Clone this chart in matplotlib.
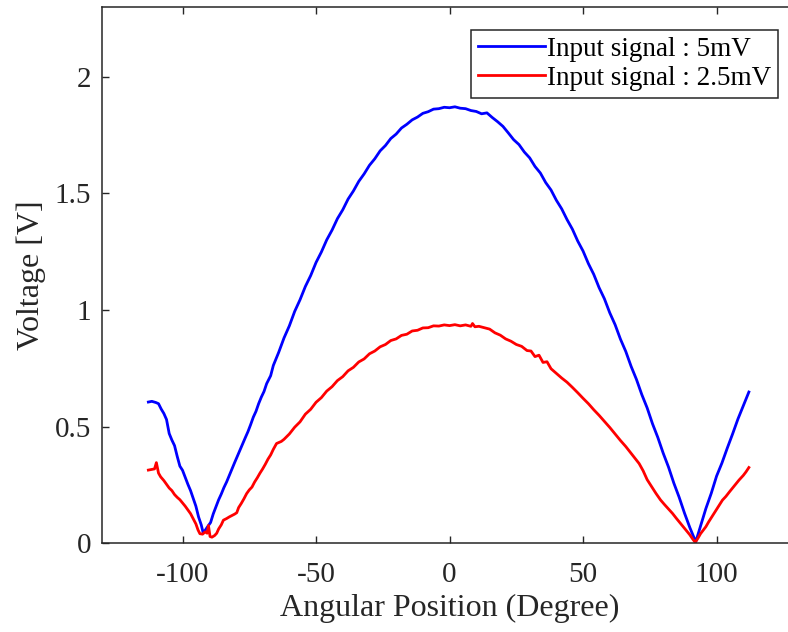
# Curva de tensão x posição angular (dois sinais de entrada)
import numpy as np
import matplotlib.pyplot as plt

# Sinal de entrada 5 mV
ang_5mv = [-112.8, -111.5, -110.0, -109.0, -108.0, -107.0, -106.0, -105.0, -104.0, -103.0,
           -102.0, -101.0, -100.0, -99.0, -98.0, -97.0, -96.0, -95.0, -94.0, -93.0,
           -92.3, -91.5, -90.5, -89.5, -88.5, -87.5, -86.5, -85.5, -84.5, -83.5,
           -82.5, -81.5, -80.5, -79.5, -78.5, -77.5, -76.5, -75.5, -74.5, -73.5,
           -72.5, -71.5, -70.5, -69.5, -68.5, -67.0, -66.0, -64.0, -62.0, -60.0,
           -58.0, -56.0, -54.0, -52.0, -50.0, -48.0, -46.0, -44.0, -42.0, -40.0,
           -38.0, -36.0, -34.0, -32.0, -30.0, -28.0, -26.0, -24.0, -22.0, -20.0,
           -18.0, -16.0, -14.0, -12.0, -10.0, -8.0, -6.0, -4.0, -2.0, 0.0,
           2.0, 4.0, 6.0, 8.0, 10.0, 12.0, 14.0, 16.0, 18.0, 20.0,
           22.0, 24.0, 26.0, 28.0, 30.0, 32.0, 34.0, 36.0, 38.0, 40.0,
           42.0, 44.0, 46.0, 48.0, 50.0, 52.0, 54.0, 56.0, 58.0, 60.0,
           62.0, 64.0, 66.0, 68.0, 70.0, 72.0, 74.0, 76.0, 78.0, 80.0,
           82.0, 84.0, 86.0, 88.0, 90.0, 92.2, 94.0, 96.0, 98.0, 100.0,
           102.0, 104.0, 106.0, 108.0, 110.0, 112.1]
v_5mv = [0.605, 0.608, 0.603, 0.598, 0.575, 0.556, 0.530, 0.470, 0.442, 0.418,
         0.372, 0.330, 0.312, 0.282, 0.252, 0.225, 0.192, 0.158, 0.112, 0.078,
         0.045, 0.055, 0.072, 0.088, 0.125, 0.155, 0.185, 0.210, 0.238, 0.262,
         0.290, 0.318, 0.345, 0.372, 0.398, 0.425, 0.452, 0.478, 0.508, 0.540,
         0.565, 0.598, 0.626, 0.650, 0.684, 0.718, 0.762, 0.818, 0.880, 0.932,
         0.994, 1.044, 1.101, 1.148, 1.204, 1.249, 1.301, 1.343, 1.392, 1.430,
         1.476, 1.511, 1.552, 1.584, 1.621, 1.649, 1.683, 1.706, 1.736, 1.755,
         1.781, 1.797, 1.816, 1.828, 1.844, 1.851, 1.862, 1.864, 1.870, 1.868,
         1.872, 1.866, 1.864, 1.856, 1.852, 1.842, 1.846, 1.826, 1.808, 1.788,
         1.760, 1.731, 1.710, 1.678, 1.653, 1.616, 1.588, 1.547, 1.515, 1.471,
         1.434, 1.388, 1.347, 1.296, 1.253, 1.199, 1.153, 1.096, 1.048, 0.988,
         0.937, 0.875, 0.822, 0.758, 0.702, 0.637, 0.580, 0.512, 0.453, 0.386,
         0.326, 0.257, 0.196, 0.128, 0.066, 0.005, 0.072, 0.148, 0.213, 0.287,
         0.343, 0.407, 0.468, 0.532, 0.588, 0.648]

# Sinal de entrada 2.5 mV
ang_25mv = [-112.8, -111.5, -110.5, -109.8, -109.0, -108.2, -107.0, -106.0, -105.0, -104.0,
            -103.0, -102.0, -101.0, -100.0, -99.0, -98.0, -97.0, -96.0, -95.0, -94.2,
            -93.5, -92.5, -91.5, -90.8, -90.3, -89.7, -89.0, -88.0, -87.2, -86.5,
            -85.5, -84.7, -83.5, -82.5, -81.5, -80.5, -79.7, -79.0, -78.0, -77.0,
            -76.0, -75.0, -74.0, -73.0, -72.0, -71.0, -70.0, -69.0, -68.0, -67.0,
            -66.0, -64.8, -63.0, -62.0, -60.0, -58.0, -56.0, -54.0, -52.0, -50.0,
            -48.0, -46.0, -44.0, -42.0, -40.0, -38.0, -36.0, -34.0, -32.0, -30.0,
            -28.0, -26.0, -24.0, -22.0, -20.0, -18.0, -16.0, -14.0, -12.0, -10.0,
            -8.0, -6.0, -4.0, -2.0, 0.0, 2.0, 4.0, 6.0, 8.0, 8.6,
            9.5, 11.0, 13.0, 15.0, 17.0, 19.0, 21.0, 23.0, 25.0, 27.0,
            29.0, 30.5, 32.0, 33.5, 35.0, 36.5, 38.0, 40.0, 42.0, 44.0,
            46.0, 48.0, 50.0, 52.0, 54.0, 56.0, 58.0, 60.0, 62.0, 64.0,
            66.0, 68.0, 70.0, 71.0, 72.5, 74.0, 75.5, 77.3, 79.0, 80.5,
            82.0, 83.5, 85.0, 86.5, 88.5, 90.0, 91.0, 92.0, 93.0, 94.0,
            95.0, 96.0, 97.0, 98.0, 99.0, 100.0, 101.0, 102.2, 103.5, 105.0,
            106.5, 108.4, 110.0, 111.0, 112.1]
v_25mv = [0.313, 0.316, 0.318, 0.345, 0.300, 0.284, 0.268, 0.252, 0.236, 0.225,
          0.208, 0.196, 0.186, 0.172, 0.158, 0.142, 0.126, 0.104, 0.082, 0.056,
          0.040, 0.038, 0.048, 0.042, 0.075, 0.028, 0.025, 0.032, 0.042, 0.060,
          0.078, 0.098, 0.105, 0.112, 0.118, 0.124, 0.130, 0.152, 0.170, 0.190,
          0.212, 0.228, 0.240, 0.262, 0.280, 0.300, 0.318, 0.338, 0.360, 0.378,
          0.402, 0.427, 0.436, 0.445, 0.468, 0.497, 0.520, 0.553, 0.574, 0.604,
          0.624, 0.652, 0.671, 0.697, 0.714, 0.739, 0.754, 0.777, 0.790, 0.812,
          0.824, 0.842, 0.852, 0.869, 0.876, 0.891, 0.896, 0.910, 0.913, 0.923,
          0.924, 0.932, 0.931, 0.936, 0.933, 0.937, 0.932, 0.936, 0.930, 0.942,
          0.928, 0.930, 0.924, 0.918, 0.902, 0.892, 0.876, 0.866, 0.852, 0.844,
          0.826, 0.824, 0.800, 0.806, 0.775, 0.778, 0.748, 0.728, 0.708, 0.690,
          0.668, 0.645, 0.621, 0.598, 0.572, 0.548, 0.522, 0.496, 0.468, 0.440,
          0.414, 0.385, 0.356, 0.341, 0.310, 0.272, 0.245, 0.213, 0.185, 0.165,
          0.146, 0.127, 0.105, 0.084, 0.056, 0.035, 0.018, 0.003, 0.020, 0.040,
          0.055, 0.070, 0.090, 0.108, 0.126, 0.144, 0.162, 0.184, 0.200, 0.222,
          0.243, 0.270, 0.290, 0.305, 0.324]

x_ticks = [-100, -50, 0, 50, 100]
y_ticks = [0, 0.5, 1, 1.5, 2]

plt.rcParams['font.family'] = ['Liberation Serif', 'DejaVu Serif']
plt.rcParams['axes.unicode_minus'] = False

fig = plt.figure(figsize=(7.88, 6.32), dpi=100)
ax = fig.add_axes([0.130, 0.1408, 0.881, 0.848])

ax.plot(ang_5mv, v_5mv, color='#0000ff', lw=2.0, label='Input signal : 5mV')
ax.plot(ang_25mv, v_25mv, color='#ff0000', lw=2.0, label='Input signal : 2.5mV')

ax.set_xlim(-130, 130)
ax.set_ylim(0, 2.3)
ax.set_xticks(x_ticks)
ax.set_yticks(y_ticks)
ax.set_yticklabels(['0', '0.5', '1', '1.5', '2'])
ax.tick_params(direction='in', top=True, right=True, length=5, width=1,
               labelsize=21, colors='#262626')
ax.tick_params(axis='x', pad=14)
ax.tick_params(axis='y', pad=8)
for s in ax.spines.values():
    s.set_linewidth(1.1)
    s.set_color('#262626')

ax.set_xlabel('Angular Position (Degree)', fontsize=23, color='#262626', labelpad=4)
ax.set_ylabel('Voltage [V]', fontsize=23, color='#262626', labelpad=6)

leg = ax.legend(loc='upper right', bbox_to_anchor=(0.9726, 0.957), borderaxespad=0,
                fontsize=19.5, handlelength=2.5, handletextpad=0.05, borderpad=0.25,
                labelspacing=0.15, fancybox=False, framealpha=1, edgecolor='#262626')
leg.get_frame().set_linewidth(1.1)

fig.savefig('out.png', dpi=100)
